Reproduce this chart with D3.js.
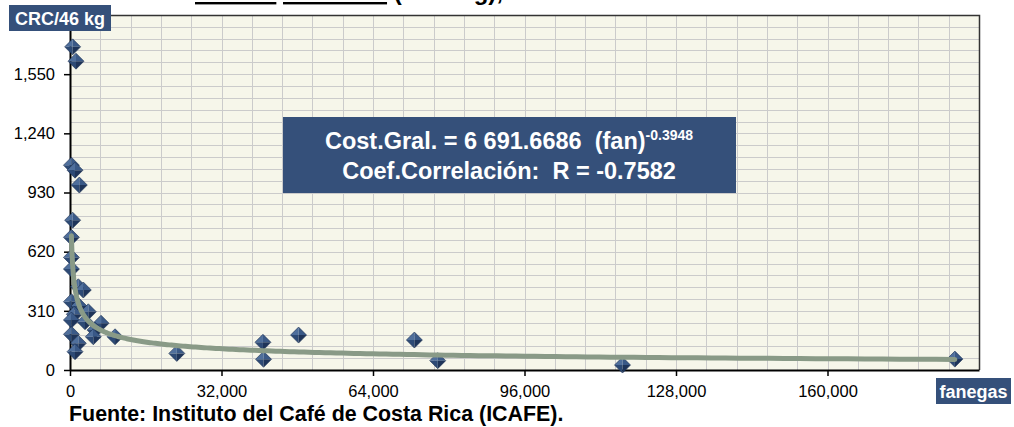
<!DOCTYPE html>
<html>
<head>
<meta charset="utf-8">
<script src="https://cdn.jsdelivr.net/npm/d3@7"></script>
<style>
  body { margin: 0; background: #fff; }
  svg { display: block; font-family: "Liberation Sans", Arial, sans-serif; }
</style>
</head>
<body>
<div id="vis"></div>
<script>

// producción (fanegas) y costo general (CRC/46 kg)
var fanegas = [560, 1270, 300, 1060, 1970, 560, 300, 300, 300, 1760, 2810, 300, 1900,
  3870, 910, 300, 3170, 6555, 300, 5290, 4930, 9515, 1760, 1060, 22560, 40750,
  40880, 48280, 72740, 77670, 116700, 186900];
var costo = [1693, 1618, 1073, 1047, 969, 785, 695, 590, 529, 436, 419, 358, 335,
  305, 292, 262, 253, 245, 187, 209, 174, 174, 140, 96, 87, 145,
  56, 183, 157, 49, 26, 57];

var yTicks = [0, 310, 620, 930, 1240, 1550];
var xTicks = [0, 32000, 64000, 96000, 128000, 160000];
var yMax = 1860, yMinor = 62;
var xMax = 192000, xMinor = 6400;

// línea de tendencia potencial: costo = a * fan^b
var trendA = 6691.6686;
var trendB = -0.3948;
var trendR = -0.7582;

var width = 1014, height = 427;
var plot = { left: 70, right: 979, top: 15, bottom: 370 };
var boxColor = '#35507a';

var svg = d3.select('#vis').append('svg')
  .attr('width', width)
  .attr('height', height);

var x = d3.scaleLinear().domain([0, xMax]).range([plot.left, plot.right]);
var y = d3.scaleLinear().domain([0, yMax]).range([plot.bottom, plot.top]);

// title, cut off at the top of the picture
var title = svg.append('text')
  .attr('x', 195)
  .attr('y', 0)
  .style('font-size', '24px')
  .style('font-weight', 'bold');
title.append('tspan').style('text-decoration', 'underline').text('Costos');
title.append('tspan').text(' ');
title.append('tspan').style('text-decoration', 'underline').text('Unitarios');
title.append('tspan').text(' (CRC/kg),');

svg.append('rect')
  .attr('x', plot.left)
  .attr('y', plot.top)
  .attr('width', plot.right - plot.left)
  .attr('height', plot.bottom - plot.top)
  .attr('fill', '#f6f6ea');

// grid
svg.append('g').selectAll('line')
  .data(d3.range(yMinor, yMax, yMinor))
  .enter().append('line')
  .attr('x1', plot.left).attr('x2', plot.right)
  .attr('y1', function (d) { return Math.round(y(d)) + 0.5; })
  .attr('y2', function (d) { return Math.round(y(d)) + 0.5; })
  .attr('stroke', '#cbcbcb');

svg.append('g').selectAll('line')
  .data(d3.range(xMinor, xMax, xMinor))
  .enter().append('line')
  .attr('y1', plot.top).attr('y2', plot.bottom)
  .attr('x1', function (d) { return Math.round(x(d)) + 0.5; })
  .attr('x2', function (d) { return Math.round(x(d)) + 0.5; })
  .attr('stroke', '#cbcbcb');

// border top / right
svg.append('path')
  .attr('d', 'M' + plot.left + ',' + (plot.top + 0.5) + 'H' + (plot.right + 0.5) + 'V' + plot.bottom)
  .attr('fill', 'none')
  .attr('stroke', '#333')
  .attr('stroke-width', 1.5);

// axes
var yAxis = svg.append('g')
  .attr('transform', 'translate(' + plot.left + ',0)')
  .call(d3.axisLeft(y).tickValues(yTicks).tickSize(6).tickPadding(9).tickSizeOuter(0).tickFormat(d3.format(',')));

var xAxis = svg.append('g')
  .attr('transform', 'translate(0,' + plot.bottom + ')')
  .call(d3.axisBottom(x).tickValues(xTicks).tickSize(6).tickPadding(9).tickSizeOuter(0).tickFormat(d3.format(',')));

[yAxis, xAxis].forEach(function (g) {
  g.selectAll('text').style('font-size', '16.5px').style('font-family', '"Liberation Sans", Arial, sans-serif').attr('fill', '#000');
  g.selectAll('line').attr('stroke', '#000').attr('stroke-width', 1.5);
  g.select('.domain').attr('stroke', '#000').attr('stroke-width', 2);
});

// markers: beveled diamonds
var r = 8;
var faces = [
  { d: 'M0,0L' + (-r) + ',0L0,' + (-r) + 'Z', fill: '#4f6f9c' },
  { d: 'M0,0L0,' + (-r) + 'L' + r + ',0Z', fill: '#3a5987' },
  { d: 'M0,0L' + (-r) + ',0L0,' + r + 'Z', fill: '#2d4a75' },
  { d: 'M0,0L0,' + r + 'L' + r + ',0Z', fill: '#1e3459' }
];

var points = fanegas.map(function (f, i) { return { x: f, y: costo[i] }; });

var marks = svg.append('g').selectAll('.mark')
  .data(points)
  .enter().append('g')
  .attr('class', 'mark')
  .attr('transform', function (d) { return 'translate(' + x(d.x) + ',' + y(d.y) + ')'; });

marks.selectAll('path')
  .data(faces)
  .enter().append('path')
  .attr('d', function (f) { return f.d; })
  .attr('fill', function (f) { return f.fill; });

marks.append('path')
  .attr('d', 'M' + (-r) + ',0L0,' + (-r) + 'L' + r + ',0L0,' + r + 'Z')
  .attr('fill', 'none')
  .attr('stroke', '#1a2e50')
  .attr('stroke-width', 0.6);

// trend line
var fMin = d3.min(fanegas), fMax = d3.max(fanegas);
var n = 300;
var trend = d3.range(n + 1).map(function (i) {
  var f = fMin * Math.pow(fMax / fMin, i / n);
  return { x: f, y: trendA * Math.pow(f, trendB) };
});

svg.append('path')
  .datum(trend)
  .attr('d', d3.line().x(function (d) { return x(d.x); }).y(function (d) { return y(d.y); }))
  .attr('fill', 'none')
  .attr('stroke', '#899a87')
  .attr('stroke-width', 5)
  .attr('stroke-linecap', 'round');

// equation box
var eq = svg.append('g');
eq.append('rect')
  .attr('x', 283).attr('y', 117)
  .attr('width', 453).attr('height', 76)
  .attr('fill', boxColor);

var fmt = d3.format('.4f');
var l1 = eq.append('text')
  .attr('x', 509).attr('y', 149)
  .attr('text-anchor', 'middle')
  .attr('fill', '#fff')
  .style('white-space', 'pre')
  .style('font-size', '23.5px')
  .style('font-weight', 'bold');
l1.append('tspan').text('Cost.Gral. = 6 ' + fmt(trendA).slice(1) + '  (fan)');
l1.append('tspan').attr('dy', -9).style('font-size', '14px').text(String(trendB));

eq.append('text')
  .attr('x', 509).attr('y', 179)
  .attr('text-anchor', 'middle')
  .attr('fill', '#fff')
  .style('white-space', 'pre')
  .style('font-size', '23.5px')
  .style('font-weight', 'bold')
  .text('Coef.Correlación:  R = ' + trendR);

// axis name boxes
function labelBox(x0, y0, w, h, txt) {
  svg.append('rect')
    .attr('x', x0).attr('y', y0).attr('width', w).attr('height', h)
    .attr('fill', boxColor);
  svg.append('text')
    .attr('x', x0 + w / 2).attr('y', y0 + h / 2 + 6.5)
    .attr('text-anchor', 'middle')
    .attr('fill', '#fff')
    .style('font-size', '18px')
    .style('font-weight', 'bold')
    .text(txt);
}
labelBox(9, 5, 102, 26, 'CRC/46 kg');
labelBox(936, 378, 75, 26, 'fanegas');

svg.append('text')
  .attr('x', 69).attr('y', 421)
  .style('font-size', '21.4px')
  .style('font-weight', 'bold')
  .text('Fuente: Instituto del Café de Costa Rica (ICAFE).');

</script>
</body>
</html>
